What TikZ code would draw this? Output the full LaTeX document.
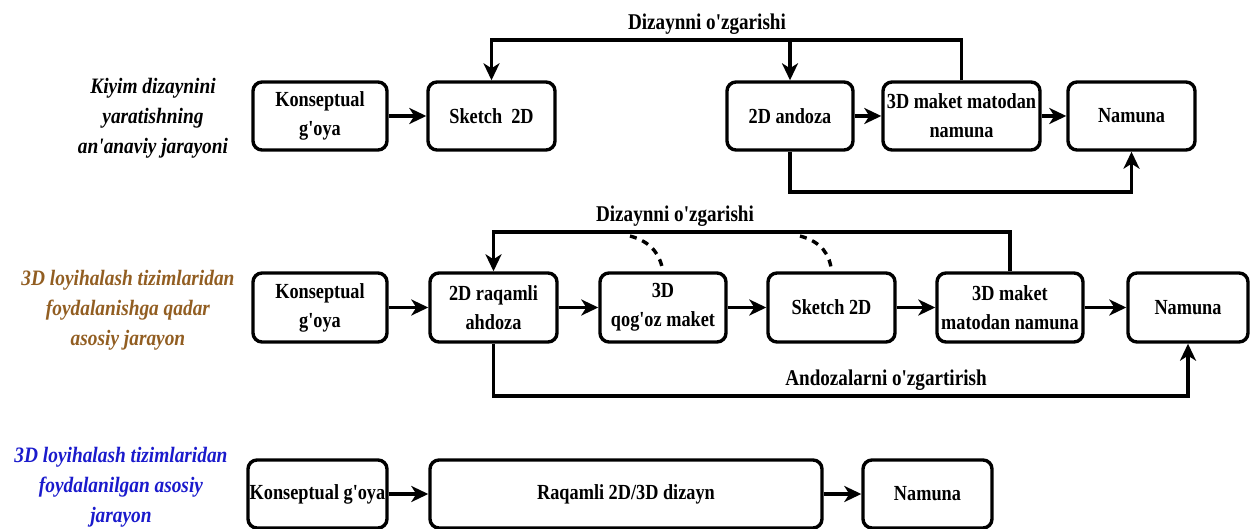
\documentclass[tikz,border=0pt]{standalone}
\usepackage{fontspec}
\usetikzlibrary{arrows.meta}
\newfontfamily\tnr[FakeStretch=0.85]{Liberation Serif}
\newfontfamily\tnrl[FakeStretch=0.88]{Liberation Serif}
\definecolor{lblbrown}{HTML}{925E22}
\definecolor{lblblue}{HTML}{1A1ACC}
\begin{document}
\begin{tikzpicture}[x=1pt,y=-1pt,
  box/.style={draw, line width=3.4pt, rounded corners=9pt, align=center, inner sep=1pt,
    font=\tnr\bfseries\fontsize{21.5}{29}\selectfont},
  arr/.style={line width=3.4pt, -{Stealth[length=17pt,width=16pt,inset=5pt]}},
  dsh/.style={line width=3.4pt, dash pattern=on 7pt off 6pt},
  clabel/.style={font=\tnr\bfseries\fontsize{22.5}{26}\selectfont, inner sep=0pt},
  rowlabel/.style={align=center, font=\tnrl\bfseries\itshape\fontsize{22}{30}\selectfont, inner sep=0pt}]
\useasboundingbox (0,0) rectangle (1250,529);

% ---------- Row labels
\node[rowlabel] (L1) at (153,118) {Kiyim dizaynini\\yaratishning\\an'anaviy jarayoni};
\node[rowlabel, text=lblbrown] (L2) at (128,310) {3D loyihalash tizimlaridan\\foydalanishga qadar\\asosiy jarayon};
\node[rowlabel, text=lblblue] (L3) at (121,487) {3D loyihalash tizimlaridan\\foydalanilgan asosiy\\jarayon};

% ---------- Row 1
\node[box, minimum width=134pt, minimum height=68pt] (k1) at (320,116) {Konseptual\\g'oya};
\node[box, minimum width=127pt, minimum height=68pt] (s1) at (491.5,116) {Sketch\ \ 2D};
\node[box, minimum width=126pt, minimum height=68pt] (a1) at (790,116) {2D andoza};
\node[box, minimum width=157pt, minimum height=68pt] (m1) at (961.5,116) {3D maket matodan\\namuna};
\node[box, minimum width=127pt, minimum height=68pt] (n1) at (1131.5,116) {Namuna};
\coordinate (t1) at (0,40);
\coordinate (b1) at (0,192);
\draw[arr] (k1) -- (s1);
\draw[arr] (a1) -- (m1);
\draw[arr] (m1) -- (n1);
\draw[arr] (m1.north) -- (m1.north |- t1) -- (s1.north |- t1) -- (s1.north);
\draw[arr] (a1.north |- t1) -- (a1.north);
\draw[arr] (a1.south) -- (a1.south |- b1) -- (n1.south |- b1) -- (n1.south);
\node[clabel] (c1) at (707,24) {Dizaynni o'zgarishi};

% ---------- Row 2
\node[box, minimum width=134pt, minimum height=69pt] (k2) at (320,307.5) {Konseptual\\g'oya};
\node[box, minimum width=127pt, minimum height=69pt] (r2) at (493.5,307.5) {2D raqamli\\ahdoza};
\node[box, minimum width=126pt, minimum height=69pt] (q2) at (663,307.5) {3D\\qog'oz maket};
\node[box, minimum width=127pt, minimum height=69pt] (s2) at (831.5,307.5) {Sketch 2D};
\node[box, minimum width=146pt, minimum height=69pt] (m2) at (1010,307.5) {3D maket\\matodan namuna};
\node[box, minimum width=120pt, minimum height=69pt] (n2) at (1188,307.5) {Namuna};
\coordinate (t2) at (0,232);
\coordinate (b2) at (0,396);
\draw[arr] (k2) -- (r2);
\draw[arr] (r2) -- (q2);
\draw[arr] (q2) -- (s2);
\draw[arr] (s2) -- (m2);
\draw[arr] (m2) -- (n2);
\draw[arr] (m2.north) -- (m2.north |- t2) -- (r2.north |- t2) -- (r2.north);
\draw[arr] (r2.south) -- (r2.south |- b2) -- (n2.south |- b2) -- (n2.south);
\coordinate (d1) at (630,236);
\coordinate (d2) at (800,236);
\draw[dsh] (d1) .. controls (652,242) and (660,255) .. (q2.north);
\draw[dsh] (d2) .. controls (822,242) and (830,255) .. (s2.north);
\node[clabel] (c2) at (675,216) {Dizaynni o'zgarishi};
\node[clabel] (c3) at (886,380) {Andozalarni o'zgartirish};

% ---------- Row 3
\node[box, minimum width=139pt, minimum height=68pt] (k3) at (317.5,494) {Konseptual g'oya};
\node[box, minimum width=392pt, minimum height=68pt] (r3) at (626,494) {Raqamli 2D/3D dizayn};
\node[box, minimum width=129pt, minimum height=68pt] (n3) at (927.5,494) {Namuna};
\draw[arr] (k3) -- (r3);
\draw[arr] (r3) -- (n3);
\end{tikzpicture}
\end{document}
